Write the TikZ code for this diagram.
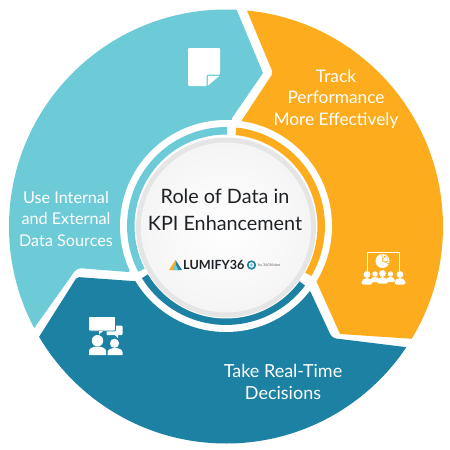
\documentclass[tikz,border=0pt]{standalone}
\usepackage{fontspec}
\setmainfont{Lato}
\definecolor{tealc}{HTML}{6DCBD7}
\definecolor{orangec}{HTML}{FDAC1D}
\definecolor{darkc}{HTML}{1C81A3}
\definecolor{inkc}{HTML}{1E2226}
\tikzset{
  label text/.style={text=white,align=center,inner sep=0pt},
  ring/.style={line width=7.5pt},
  icon/.style={fill=white,draw=none}
}
\newcommand{\person}[3]{% x, y head centre, scale
  \fill[white] (#1,#2) circle[radius=#3*3.4pt];
  \fill[white,rounded corners=#3*2pt] ({#1-#3*5.5},{#2+#3*10}) -- ({#1-#3*5.5},{#2+#3*6}) -- ({#1-#3*2},{#2+#3*3.6}) -- ({#1+#3*2},{#2+#3*3.6}) -- ({#1+#3*5.5},{#2+#3*6}) -- ({#1+#3*5.5},{#2+#3*10}) -- cycle;
}
\begin{document}
\begin{tikzpicture}[x=1pt,y=-1pt]
\useasboundingbox (0,0) rectangle (450,450);
\coordinate (c) at (226,226);
\coordinate (d) at (226,227.5);
\begin{scope}
  \clip (226,226.5) circle[radius=217pt];
  % teal sector
  \fill[tealc] (233,1) -- (263,73) -- (232,118) -- (226,226) -- (128,272)
     [rounded corners=4pt] -- (77,268) [sharp corners] -- (20,348) -- (-10,350) -- (-10,-10) -- (233,-10) -- cycle;
  % orange sector
  \fill[orangec] (243,1) [rounded corners=2pt] -- (273,73) [sharp corners] -- (242,120) -- (226,226) -- (300,245) -- (318,285)
     -- (340,334) -- (460,342) -- (460,-10) -- (243,-10) -- cycle;
  % dark sector
  \fill[darkc] (305,280) -- (312,295) [rounded corners=4pt] -- (332,338) [sharp corners] -- (470,355) -- (470,470) -- (-10,470) -- (20,367)
     [rounded corners=2pt] -- (77,277) [sharp corners] -- (160,283) -- cycle;
\end{scope}
\fill[white] (c) circle[radius=106pt];
% rings
\draw[ring,tealc] (c) ++(89.5:95.2pt) arc[start angle=89.5,end angle=207.6,radius=95.2pt];
\draw[ring,orangec] (c) ++(84:95.2pt) arc[start angle=84,end angle=-30.4,radius=95.2pt];
\draw[ring,darkc] (c) ++(-37:95.2pt) arc[start angle=-37,end angle=-148.2,radius=95.2pt];
% hub
\fill[white] (d) circle[radius=91pt];
\fill[black!10] (d) circle[radius=90pt];
\shade[inner color=white,outer color=black!4] (d) circle[radius=85pt];
\node[font=\fontsize{19.8}{27}\selectfont,text=inkc,align=center,inner sep=0pt] (title) at (225,209.5) {Role of Data in\\KPI Enhancement};
% logo
\fill[orangec] (169,270) -- (175.5,260) -- (175.5,270) -- cycle;
\fill[darkc] (175.5,260) -- (182,270) -- (175.5,270) -- cycle;
\fill[tealc] (175.5,264) -- (172.5,270) -- (178.5,270) -- cycle;
\node[font=\fontsize{12.6}{14}\selectfont\bfseries,text=inkc,anchor=west,inner sep=0pt] (logo) at (183,265) {LUMIFY36};
\draw[darkc,line width=1.6pt] (251.5,265) circle[radius=3.8pt];
\fill[tealc] (251.5,265) circle[radius=1.7pt];
\node[font=\fontsize{3.8}{4}\selectfont,text=black!60,anchor=west,inner sep=0pt] (by) at (258,265.5) {by 360Vision};
% labels
\node[label text,font=\fontsize{17.3}{21.5}\selectfont] (track) at (336,99) {Track\\Performance\\More Effectively};
\node[label text,font=\fontsize{16.2}{21.5}\selectfont] (use) at (66,219) {Use Internal\\and External\\Data Sources};
\node[label text,font=\fontsize{18}{21.5}\selectfont] (take) at (283,382) {Take Real-Time\\Decisions};
% document icon
\fill[icon,rounded corners=1pt] (188,48) -- (220,48) -- (220,74.5) -- (206.5,74.5) -- (206.5,86) -- (188,86) -- cycle;
\fill[icon] (207.8,75.8) -- (219.4,75.8) -- (207.8,85.8) -- cycle;
% presentation icon
\draw[white,line width=1pt] (367.5,273) -- (367.5,252.5) -- (399,252.5) -- (399,273);
\fill[white] (382.5,261) circle[radius=7pt];
\fill[orangec] (382.5,261) -- ++(70:6pt) arc[start angle=70,end angle=-10,radius=6pt] -- cycle;
\fill[white] (382.5,261) -- ++(58:5.5pt) arc[start angle=58,end angle=2,radius=5.5pt] -- cycle;
\draw[orangec,line width=.6pt] (382.5,261) -- ++(95:7pt) (382.5,261) -- ++(-25:7pt);
\person{375}{274}{0.8}
\person{390.5}{274}{0.8}
\person{367}{274.5}{1}
\person{382.5}{273.5}{1}
\person{400}{274.5}{1}
% chat icon
\fill[white,rounded corners=1pt] (106.5,325.5) rectangle (122.5,335);
\fill[white] (115,335) -- (118,338) -- (118,335) -- cycle;
\fill[white,rounded corners=1pt,draw=darkc,line width=.8pt] (88.5,316.5) rectangle (115.5,331);
\fill[white] (99,331) -- (99,334.5) -- (103,331) -- cycle;
\fill[white] (97.5,340.7) circle[radius=5.7pt];
\fill[white] (89,355) -- (89,351) arc[start angle=180,end angle=0,x radius=8.5pt,y radius=4.5pt] -- (106,355) -- cycle;
\fill[white] (114.5,343.3) circle[radius=4.6pt];
\fill[white] (107.5,355) -- (107.5,352) arc[start angle=180,end angle=0,x radius=7.5pt,y radius=4pt] -- (122.5,355) -- cycle;
\end{tikzpicture}
\end{document}
